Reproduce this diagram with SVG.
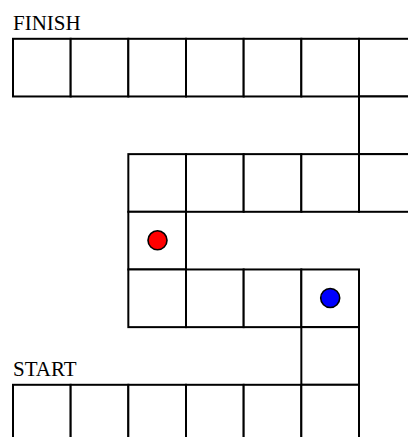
<svg xmlns="http://www.w3.org/2000/svg" width="408" height="437" viewBox="0 0 408 437">
<style>
.c{fill:#fff;stroke:#000;stroke-width:2}
.t{font-family:"Liberation Serif","Times New Roman",serif;font-size:21px;fill:#000}
.p{stroke:#000;stroke-width:1.6}
</style>
<rect width="408" height="437" fill="#fff"/>
<text class="t" x="13" y="30">FINISH</text>
<text class="t" x="13" y="376">START</text>
<g id="row-finish">
<rect class="c" x="13" y="38.8" width="57.67" height="57.67"/>
<rect class="c" x="70.67" y="38.8" width="57.67" height="57.67"/>
<rect class="c" x="128.33" y="38.8" width="57.67" height="57.67"/>
<rect class="c" x="186" y="38.8" width="57.67" height="57.67"/>
<rect class="c" x="243.67" y="38.8" width="57.67" height="57.67"/>
<rect class="c" x="301.33" y="38.8" width="57.67" height="57.67"/>
<rect class="c" x="359" y="38.8" width="57.67" height="57.67"/>
</g>
<g id="link-right">
<rect class="c" x="359" y="96.47" width="57.67" height="57.67"/>
</g>
<g id="row-middle">
<rect class="c" x="128.33" y="154.13" width="57.67" height="57.67"/>
<rect class="c" x="186" y="154.13" width="57.67" height="57.67"/>
<rect class="c" x="243.67" y="154.13" width="57.67" height="57.67"/>
<rect class="c" x="301.33" y="154.13" width="57.67" height="57.67"/>
<rect class="c" x="359" y="154.13" width="57.67" height="57.67"/>
</g>
<g id="link-left">
<rect class="c" x="128.33" y="211.8" width="57.67" height="57.67"/>
</g>
<g id="row-lower">
<rect class="c" x="128.33" y="269.47" width="57.67" height="57.67"/>
<rect class="c" x="186" y="269.47" width="57.67" height="57.67"/>
<rect class="c" x="243.67" y="269.47" width="57.67" height="57.67"/>
<rect class="c" x="301.33" y="269.47" width="57.67" height="57.67"/>
</g>
<g id="link-bottom">
<rect class="c" x="301.33" y="327.13" width="57.67" height="57.67"/>
</g>
<g id="row-start">
<rect class="c" x="13" y="384.8" width="57.67" height="57.67"/>
<rect class="c" x="70.67" y="384.8" width="57.67" height="57.67"/>
<rect class="c" x="128.33" y="384.8" width="57.67" height="57.67"/>
<rect class="c" x="186" y="384.8" width="57.67" height="57.67"/>
<rect class="c" x="243.67" y="384.8" width="57.67" height="57.67"/>
<rect class="c" x="301.33" y="384.8" width="57.67" height="57.67"/>
</g>
<g id="pieces">
<circle id="red-piece" class="p" cx="157.5" cy="240.3" r="9.5" fill="#ff0000"/>
<circle id="blue-piece" class="p" cx="330.2" cy="298" r="9.5" fill="#0000ff"/>
</g>
</svg>
